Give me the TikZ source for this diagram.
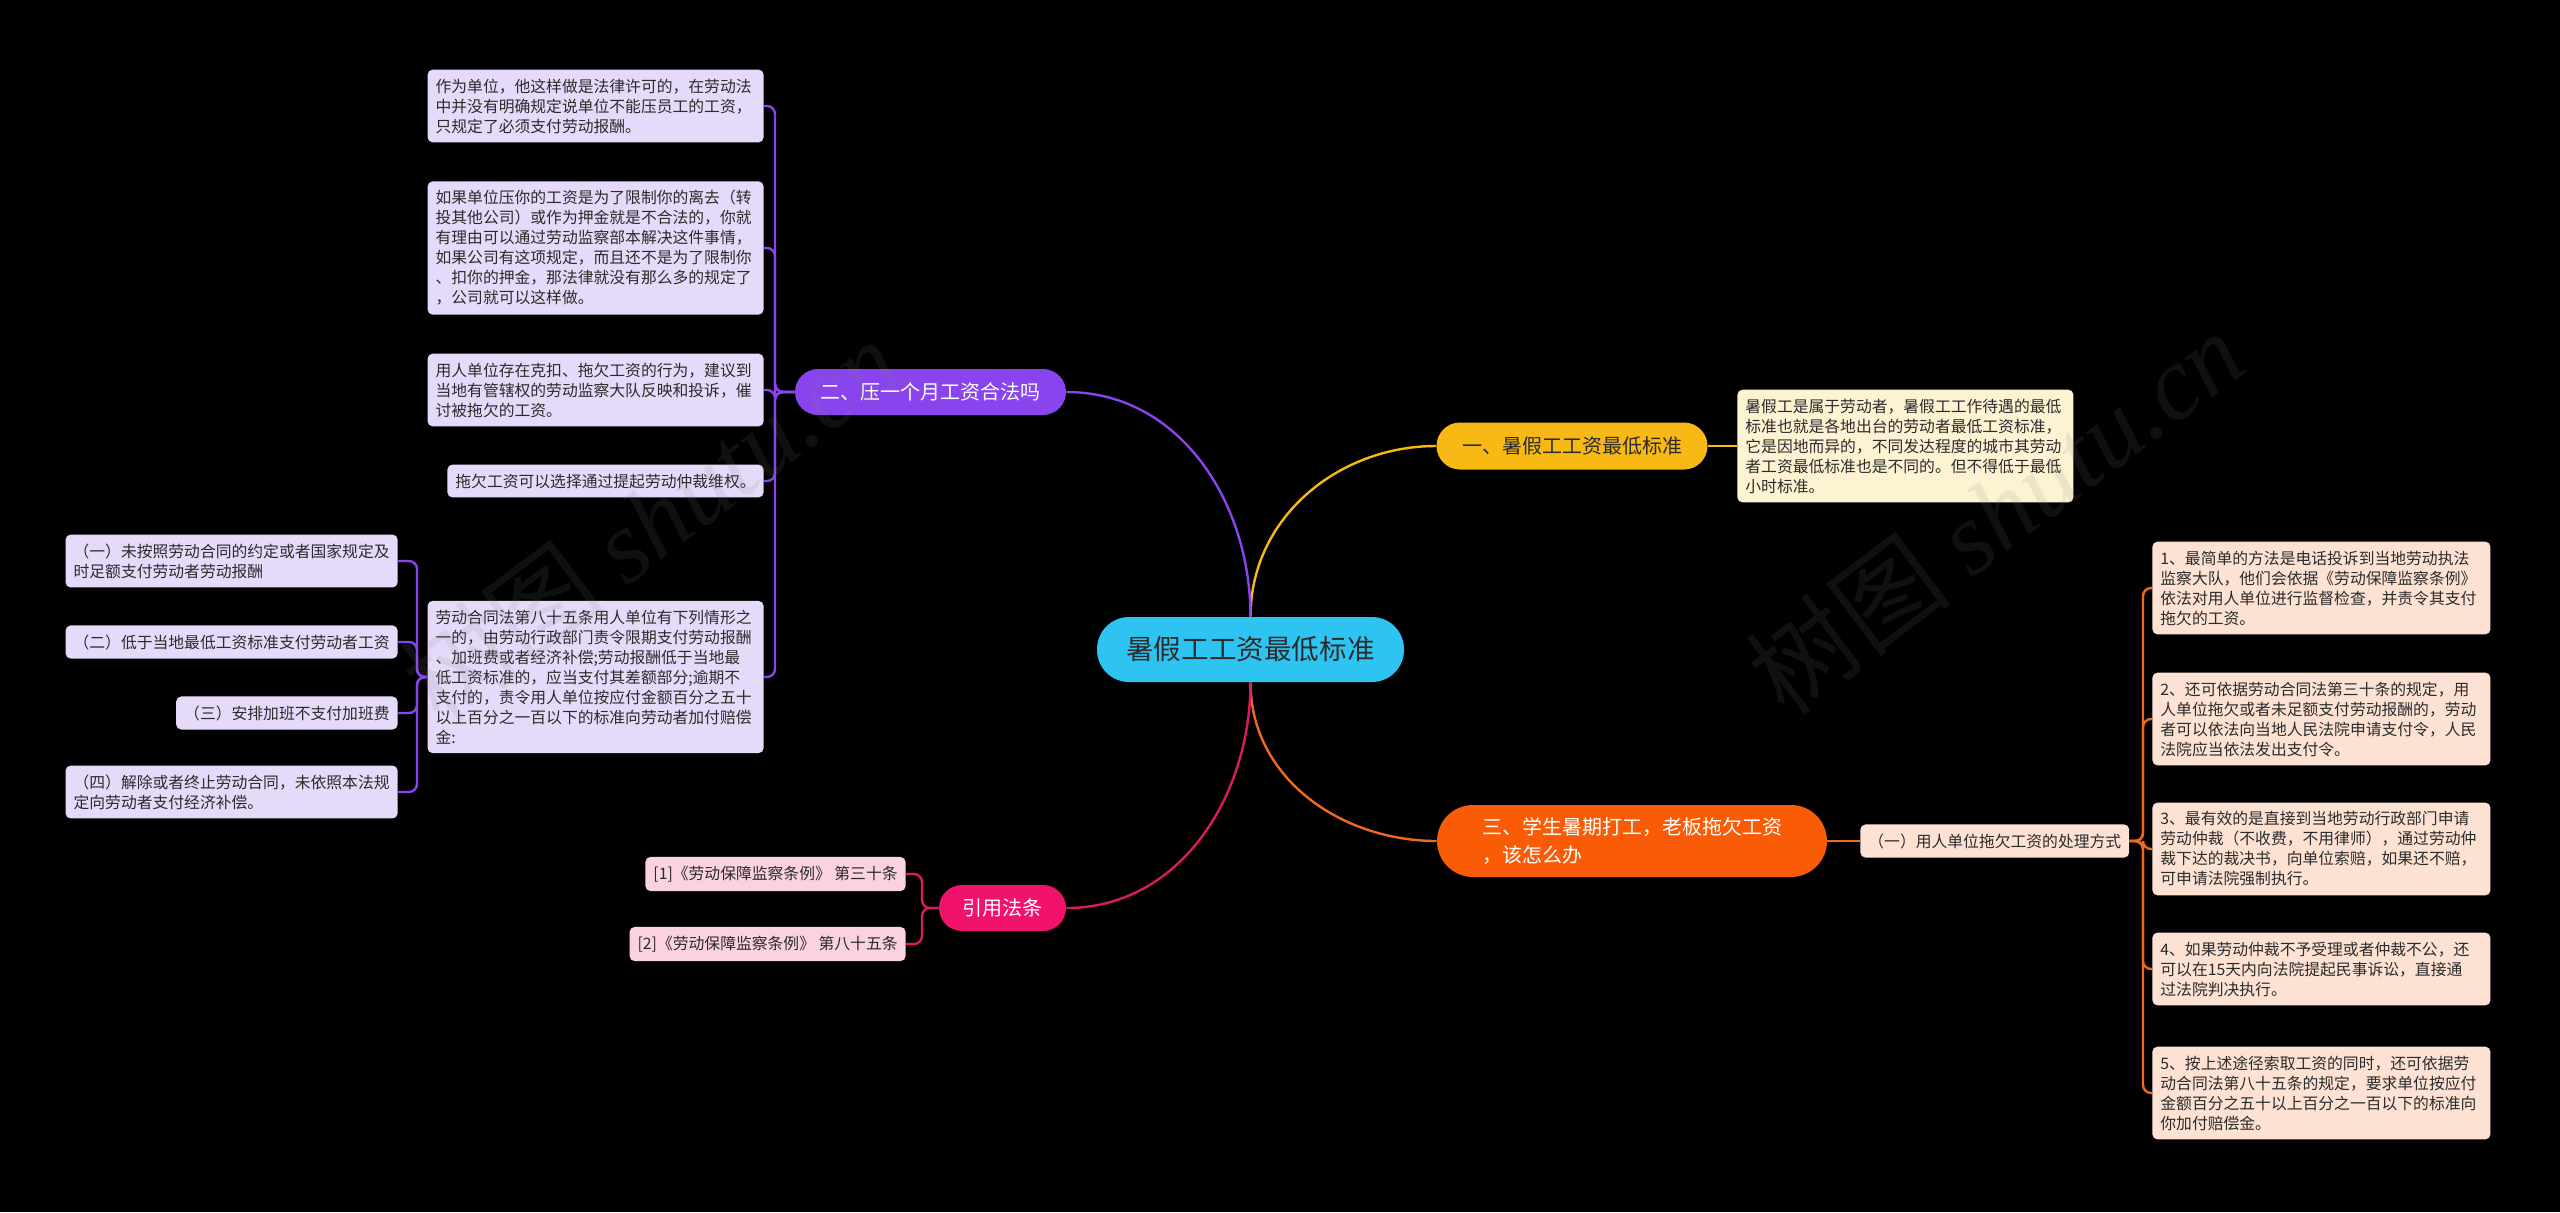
\documentclass[tikz,border=0pt]{standalone}
\usepackage{fontspec}
\setmainfont{Noto Sans CJK SC}
\newfontfamily\wmserif{Liberation Serif}
\definecolor{cyanC}{HTML}{2EC4F2}
\definecolor{yelB}{HTML}{F9B914}
\definecolor{yelL}{HTML}{FDF3D3}
\definecolor{purB}{HTML}{8A44EE}
\definecolor{purL}{HTML}{E6DAFA}
\definecolor{orB}{HTML}{F95B07}
\definecolor{orL}{HTML}{FDE2D4}
\definecolor{orLine}{HTML}{EE6A21}
\definecolor{pkB}{HTML}{F0126C}
\definecolor{pkL}{HTML}{FBD2E1}
\definecolor{pkLine}{HTML}{D81B62}
\definecolor{txt}{HTML}{2B2B2B}
\begin{document}
\begin{tikzpicture}[x=0.5pt,y=-0.5pt,
  leaf/.style={rounded corners=2.5pt, inner xsep=4pt, inner ysep=4.5pt,
    font=\fontsize{7.9pt}{10pt}\selectfont, text=txt, align=left},
  wleaf/.style={leaf, text width=160pt},
  oleaf/.style={leaf, text width=161pt, fill=orL, anchor=west},
  pleaf/.style={wleaf, fill=purL, anchor=east},
  sleaf/.style={leaf, fill=purL, anchor=east},
  cleaf/.style={leaf, fill=pkL, anchor=east},
  branch/.style={font=\fontsize{10pt}{14pt}\selectfont, align=left, inner sep=0pt},
  conn/.style={line width=1.2pt},
  hook/.style={conn, rounded corners=4pt},
  wm/.style={text=gray, opacity=0.13, rotate=37, inner sep=0pt}
]
\fill[black] (0,0) rectangle (2560,1212);
\useasboundingbox (0,0) rectangle (2560,1212);

% centre
\node[fill=cyanC, text=txt, rounded corners=16pt, minimum width=153.5pt, minimum height=32.5pt,
  inner sep=0pt, font=\fontsize{13.8pt}{16pt}\selectfont] (C) at (1250.5,649.5) {暑假工工资最低标准};

% branches
\node[branch, fill=yelB, text=txt, rounded corners=11.75pt, minimum width=135.5pt, minimum height=23.5pt] (B1) at (1572,446) {一、暑假工工资最低标准};
\node[branch, fill=purB, text=white, rounded corners=11.5pt, minimum width=135.5pt, minimum height=23pt] (B2) at (930.5,392) {二、压一个月工资合法吗};
\node[branch, fill=orB, text=white, rounded corners=18pt, minimum width=195pt, minimum height=36pt] (B3) at (1632,841) {三、学生暑期打工，老板拖欠工资\\，该怎么办};
\node[branch, fill=pkB, text=white, rounded corners=11.5pt, minimum width=63.5pt, minimum height=23pt] (B4) at (1002.5,908) {引用法条};

% yellow leaf
\node[wleaf, fill=yelL, anchor=west] (Y) at (1737,446) {暑假工是属于劳动者，暑假工工作待遇的最低\\
标准也就是各地出台的劳动者最低工资标准，\\
它是因地而异的，不同发达程度的城市其劳动\\
者工资最低标准也是不同的。但不得低于最低\\
小时标准。};

% purple leaves
\node[pleaf] (L1) at (764,106) {作为单位，他这样做是法律许可的，在劳动法\\
中并没有明确规定说单位不能压员工的工资，\\
只规定了必须支付劳动报酬。};
\node[pleaf] (L2) at (764,248) {如果单位压你的工资是为了限制你的离去（转\\
投其他公司）或作为押金就是不合法的，你就\\
有理由可以通过劳动监察部本解决这件事情，\\
如果公司有这项规定，而且还不是为了限制你\\
、扣你的押金，那法律就没有那么多的规定了\\
，公司就可以这样做。};
\node[pleaf] (L3) at (764,390) {用人单位存在克扣、拖欠工资的行为，建议到\\
当地有管辖权的劳动监察大队反映和投诉，催\\
讨被拖欠的工资。};
\node[sleaf] (L4) at (764,481) {拖欠工资可以选择通过提起劳动仲裁维权。};
\node[pleaf] (L5) at (764,677) {劳动合同法第八十五条用人单位有下列情形之\\
一的，由劳动行政部门责令限期支付劳动报酬\\
、加班费或者经济补偿;劳动报酬低于当地最\\
低工资标准的，应当支付其差额部分;逾期不\\
支付的，责令用人单位按应付金额百分之五十\\
以上百分之一百以下的标准向劳动者加付赔偿\\
金:};

\node[sleaf] (S1) at (398,561) {（一）未按照劳动合同的约定或者国家规定及\\
时足额支付劳动者劳动报酬};
\node[sleaf] (S2) at (398,642) {（二）低于当地最低工资标准支付劳动者工资};
\node[sleaf] (S3) at (398,713) {（三）安排加班不支付加班费};
\node[sleaf] (S4) at (398,792) {（四）解除或者终止劳动合同，未依照本法规\\
定向劳动者支付经济补偿。};

% citations
\node[cleaf] (C1) at (906,874) {[1]《劳动保障监察条例》 第三十条};
\node[cleaf] (C2) at (906,944) {[2]《劳动保障监察条例》 第八十五条};

% orange
\node[leaf, fill=orL, anchor=west] (K) at (1860,841) {（一）用人单位拖欠工资的处理方式};
\node[oleaf] (O1) at (2152,588) {1、最简单的方法是电话投诉到当地劳动执法\\
监察大队，他们会依据《劳动保障监察条例》\\
依法对用人单位进行监督检查，并责令其支付\\
拖欠的工资。};
\node[oleaf] (O2) at (2152,719) {2、还可依据劳动合同法第三十条的规定，用\\
人单位拖欠或者未足额支付劳动报酬的，劳动\\
者可以依法向当地人民法院申请支付令，人民\\
法院应当依法发出支付令。};
\node[oleaf] (O3) at (2152,849) {3、最有效的是直接到当地劳动行政部门申请\\
劳动仲裁（不收费，不用律师），通过劳动仲\\
裁下达的裁决书，向单位索赔，如果还不赔，\\
可申请法院强制执行。};
\node[oleaf] (O4) at (2152,969) {4、如果劳动仲裁不予受理或者仲裁不公，还\\
可以在15天内向法院提起民事诉讼，直接通\\
过法院判决执行。};
\node[oleaf] (O5) at (2152,1093) {5、按上述途径索取工资的同时，还可依据劳\\
动合同法第八十五条的规定，要求单位按应付\\
金额百分之五十以上百分之一百以下的标准向\\
你加付赔偿金。};

% connectors from centre
\draw[conn, yelB] (C.north) to[out=90,in=180] (B1.west);
\draw[conn, purB] (C.north) to[out=90,in=0] (B2.east);
\draw[conn, orLine] (C.south) to[out=-90,in=180] (B3.west);
\draw[conn, pkLine] (C.south) to[out=-90,in=0] (B4.east);

\draw[conn, yelB] (B1.east) -- (Y.west);
\draw[conn, orLine] (B3.east) -- (K.west);

\coordinate (t2) at (775,392);
\foreach \n in {L1,L2,L3,L4,L5}{\draw[hook, purB] (B2.west) -- (t2) |- (\n.east);}
\coordinate (t5) at (417,677);
\foreach \n in {S1,S2,S3,S4}{\draw[hook, purB] (L5.west) -- (t5) |- (\n.east);}
\coordinate (t4) at (922,908);
\foreach \n in {C1,C2}{\draw[hook, pkLine] (B4.west) -- (t4) |- (\n.east);}
\coordinate (t3) at (2143,841);
\foreach \n in {O1,O2,O3,O4,O5}{\draw[hook, orLine] (K.east) -- (t3) |- (\n.west);}

% watermarks
\node[wm, font=\fontsize{52pt}{56pt}\selectfont] (wm1) at (650,520) {树图 {\wmserif\itshape shutu.cn}};
\node[wm, font=\fontsize{52pt}{56pt}\selectfont] (wm2) at (1995,512) {树图 {\wmserif\itshape shutu.cn}};
\end{tikzpicture}
\end{document}
